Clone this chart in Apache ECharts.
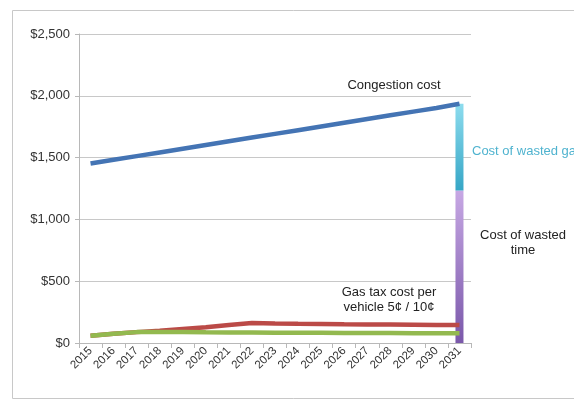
<!DOCTYPE html>
<html><head><meta charset="utf-8">
<script src="https://cdn.jsdelivr.net/npm/echarts@6/dist/echarts.min.js"></script>
<style>html,body{margin:0;padding:0;background:#fff}#c{width:574px;height:401px}</style>
</head><body><div id="c"></div>
<script>
const years = ['2015','2016','2017','2018','2019','2020','2021','2022','2023','2024','2025','2026','2027','2028','2029','2030','2031'];
const congestion = [1452,1482,1512,1542,1572,1602,1632,1662,1692,1722,1752,1782,1812,1842,1872,1902,1935];
const gasTax10 = [58,74,88,100,114,128,145,162,158,155,153,151,150,149,148,146,145];
const gasTax5 = [58,74,88,90,88,86,85,84,83,82,82,81,80,80,79,78,78];
const wastedTime = [null,null,null,null,null,null,null,null,null,null,null,null,null,null,null,null,1234];
const wastedGas = [null,null,null,null,null,null,null,null,null,null,null,null,null,null,null,null,701];
const yTicks = [0,500,1000,1500,2000,2500];

const chart = echarts.init(document.getElementById('c'), null, {renderer:'canvas'});
const font = 'Liberation Sans, Arial, sans-serif';
chart.setOption({
  animation:false,
  grid:{left:79,right:103,top:34,bottom:58},
  xAxis:{type:'category',data:years,boundaryGap:true,
    axisLine:{lineStyle:{color:'#b8b8b8'}},
    axisTick:{show:true,alignWithLabel:false,lineStyle:{color:'#b8b8b8'}},
    axisLabel:{rotate:45,fontSize:11.5,color:'#333',fontFamily:font,interval:0,margin:6}},
  yAxis:{type:'value',min:yTicks[0],max:yTicks[yTicks.length-1],interval:500,
    axisLine:{show:true,lineStyle:{color:'#b8b8b8'}},
    axisTick:{show:true,length:4,lineStyle:{color:'#b8b8b8'}},
    splitLine:{lineStyle:{color:'#c8c8c8'}},
    axisLabel:{fontSize:13,color:'#333',fontFamily:font,margin:9,
      formatter:v=>'$'+v.toLocaleString('en-US')}},
  series:[
    {type:'bar',stack:'c',data:wastedTime,barWidth:8,
      itemStyle:{color:new echarts.graphic.LinearGradient(0,0,0,1,[{offset:0,color:'#c7a8e4'},{offset:1,color:'#7a58aa'}])}},
    {type:'bar',stack:'c',data:wastedGas,barWidth:8,
      itemStyle:{color:new echarts.graphic.LinearGradient(0,0,0,1,[{offset:0,color:'#8ddcee'},{offset:1,color:'#36a6c6'}])}},
    {type:'line',data:congestion,symbol:'none',lineStyle:{width:4.5,color:'#4474b4'},z:5},
    {type:'line',data:gasTax10,symbol:'none',lineStyle:{width:4.5,color:'#bb4a47'},z:5},
    {type:'line',data:gasTax5,symbol:'none',lineStyle:{width:4.5,color:'#93b94f'},z:6}
  ],
  graphic:[
    {type:'rect',shape:{x:12.5,y:10.5,width:600,height:388},style:{fill:'none',stroke:'#c8c8c8',lineWidth:1},silent:true,z:-1},
    {type:'text',x:394,y:85,style:{text:'Congestion cost',font:'13px '+font,fill:'#222',align:'center',verticalAlign:'middle'}},
    {type:'text',x:472,y:151,style:{text:'Cost of wasted gas',font:'13px '+font,fill:'#4fb3cf',align:'left',verticalAlign:'middle'}},
    {type:'text',x:523,y:243,style:{text:'Cost of wasted\ntime',font:'13px '+font,fill:'#222',align:'center',verticalAlign:'middle',lineHeight:15}},
    {type:'text',x:389,y:300,style:{text:'Gas tax cost per\nvehicle 5¢ / 10¢',font:'13px '+font,fill:'#222',align:'center',verticalAlign:'middle',lineHeight:15}}
  ]
});
</script></body></html>
